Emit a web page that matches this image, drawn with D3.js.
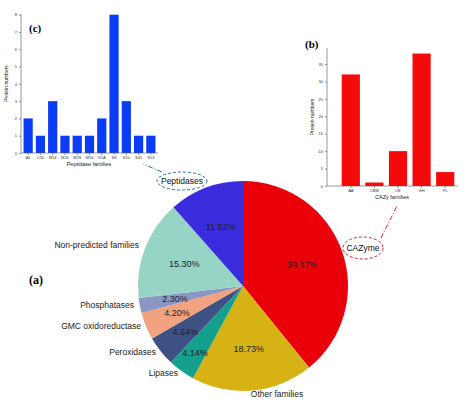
<!DOCTYPE html><html><head><meta charset="utf-8"><script src="https://cdn.jsdelivr.net/npm/d3@7"></script>
<style>body{margin:0;background:#fff}svg{font-family:"Liberation Sans",Arial,sans-serif}</style></head><body><svg width="474" height="403"></svg>
<script>
const pieLabels=["CAZyme","Other families","Lipases","Peroxidases","GMC oxidoreductase","Phosphatases","Non-predicted families","Peptidases"];
const pieValues=[39.17,18.73,4.14,4.64,4.20,2.30,15.30,11.52];
const pieColors=["#ea0008","#d6b214","#14a08c","#3d5185","#f2a27f","#8b97c2","#96d4c6","#3a2cdc"];
const pepFamilies=["A1","C50","M14","M20","M28","M56","S1A","S8","S10","S41","S53"];
const pepCounts=[2,1,3,1,1,1,2,8,3,1,1];
const cazyFamilies=["AA","CBM","CE","GH","PL"];
const cazyCounts=[32,1,10,38,4];
const svg=d3.select("svg");

const cx=243,cy=286,R=105;
const arcs=d3.pie().sort(null)(pieValues);
const arc=d3.arc().innerRadius(0).outerRadius(R);
const g=svg.append("g").attr("transform",`translate(${cx},${cy})`);
g.selectAll("path").data(arcs).join("path").attr("d",arc).attr("fill",(d,i)=>pieColors[i]);
const pctPos=[0.6,0.6,0.78,0.7,0.68,0.66,0.6,0.6];
g.selectAll("text.p").data(arcs).join("text").attr("class","p")
 .attr("transform",(d,i)=>{const a=(d.startAngle+d.endAngle)/2,r=R*pctPos[i];return `translate(${Math.sin(a)*r},${-Math.cos(a)*r})`;})
 .attr("text-anchor","middle").attr("dy","0.35em").attr("font-size",9).attr("fill","#222")
 .text((d,i)=>pieValues[i].toFixed(2)+"%");
const outer=[[null],[277,394,"middle"],[178,373,"end"],[156,352,"end"],[141,326,"end"],[134,305,"end"],[139,245,"end"]];
for(let i=1;i<=6;i++){svg.append("text").attr("x",outer[i][0]).attr("y",outer[i][1]).attr("text-anchor",outer[i][2]).attr("dy","0.35em").attr("font-size",8.5).attr("fill","#222").text(pieLabels[i]);}
function callout(x,y,rx,ry,col,txt,x1,y1,x2,y2){
 svg.append("ellipse").attr("cx",x).attr("cy",y).attr("rx",rx).attr("ry",ry).attr("fill","#fff").attr("stroke",col).attr("stroke-width",1).attr("stroke-dasharray","3,2");
 svg.append("text").attr("x",x).attr("y",y).attr("dy","0.35em").attr("text-anchor","middle").attr("font-size",8.5).attr("fill","#111").text(txt);
 svg.append("line").attr("x1",x1).attr("y1",y1).attr("x2",x2).attr("y2",y2).attr("stroke",col).attr("stroke-width",1).attr("stroke-dasharray","5,2,1,2");
}
callout(182,181,25,9,"#2a6fb0","Peptidases",162,172,143,164);
callout(363,248,20,11,"#d42030","CAZyme",381,238,397,206);
svg.append("text").attr("x",29).attr("y",284).attr("font-family","Liberation Serif,serif").attr("font-weight","bold").attr("font-size",12).text("(a)");

function barChart(cats,vals,col,xr,y0,ytop,maxd,ticks,axisTop,axisLeft,xlabel,pad){
 const x=d3.scaleBand().domain(cats).range(xr).paddingInner(pad).paddingOuter(pad/2);
 const y=d3.scaleLinear().domain([0,maxd]).range([y0,ytop]);
 svg.selectAll(null).data(vals).join("rect").attr("x",(d,i)=>x(cats[i])).attr("width",x.bandwidth())
  .attr("y",d=>y(d)).attr("height",d=>y0-y(d)).attr("fill",col);
 const ya=svg.append("g").attr("transform",`translate(${axisLeft},0)`).call(d3.axisLeft(y).tickValues(ticks).tickSize(2).tickPadding(2));
 ya.select(".domain").attr("d",`M0,${axisTop}V${y0}`);
 const xa=svg.append("g").attr("transform",`translate(0,${y0})`).call(d3.axisBottom(x).tickSize(2).tickPadding(1.5));
 xa.select(".domain").attr("d",`M${axisLeft},0H${xr[1]+1}`);
 [ya,xa].forEach(a=>{a.selectAll("text").attr("font-size",4).attr("fill","#333");a.selectAll("path,line").attr("stroke","#555").attr("stroke-width",0.6);});
 svg.append("text").attr("x",(axisLeft+xr[1])/2).attr("y",y0+12.5).attr("text-anchor","middle").attr("font-size",5.5).attr("fill","#222").text(xlabel);
 svg.append("text").attr("transform",`translate(${axisLeft-13},${(y0+axisTop)/2}) rotate(-90)`).attr("text-anchor","middle").attr("font-size",5).attr("fill","#222").text("Protein numbers");
}
barChart(pepFamilies,pepCounts,"#0a3cf5",[22,157],153,14.7,8,[0,1,2,3,4,5,6,7,8],14,21,"Peptidase families",0.25);
barChart(cazyFamilies,cazyCounts,"#f50a0a",[339,457],186,64,35,[0,5,10,15,20,25,30,35],48,327,"CAZy families",0.23);
svg.append("text").attr("x",29).attr("y",32).attr("font-family","Liberation Serif,serif").attr("font-weight","bold").attr("font-size",11).text("(c)");
svg.append("text").attr("x",305).attr("y",48).attr("font-family","Liberation Serif,serif").attr("font-weight","bold").attr("font-size",11).text("(b)");
</script></body></html>
